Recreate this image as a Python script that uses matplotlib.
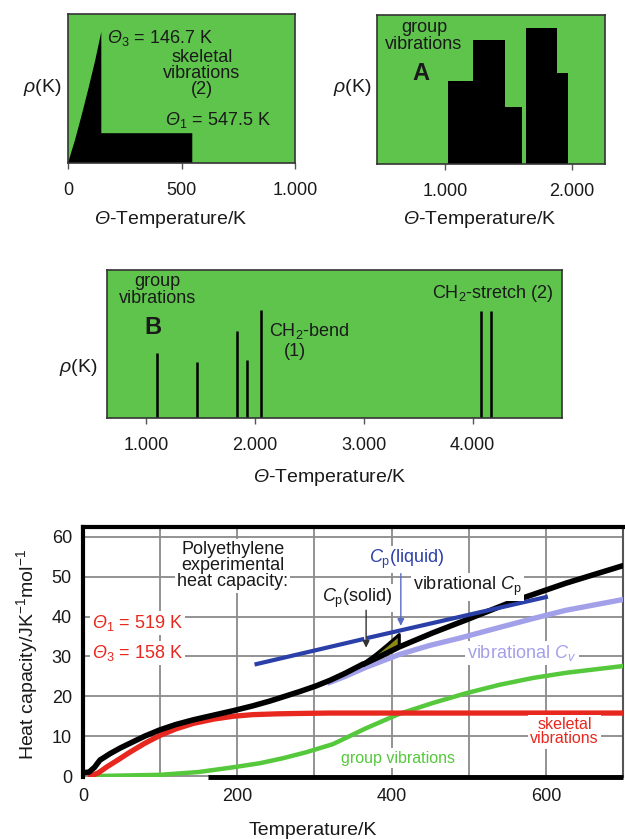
import matplotlib
matplotlib.use('Agg')
import matplotlib.pyplot as plt

plt.rcParams['font.family'] = ['Liberation Sans', 'DejaVu Sans']
plt.rcParams['mathtext.fontset'] = 'custom'
plt.rcParams['mathtext.rm'] = 'Liberation Sans'
plt.rcParams['mathtext.it'] = 'Liberation Sans:italic'
plt.rcParams['mathtext.bf'] = 'Liberation Sans:bold'
plt.rcParams['mathtext.sf'] = 'Liberation Sans:italic'

# ---------------- data ----------------
# Panel 1: skeletal vibrations density (Tarasov)
p1_theta = [0, 30, 60, 90, 120, 146.7, 146.7, 547.5, 547.5]
p1_rho = [0, 0.15, 0.32, 0.50, 0.69, 0.88, 0.20, 0.20, 0]
p1_ticks = [0, 500, 1000]
p1_ticklabels = ['0', '500', '1.000']

# Panel 2: group vibrations A (box distributions)
p2_left = [1024, 1220, 1472, 1638, 1882]
p2_right = [1220, 1472, 1606, 1882, 1969]
p2_height = [0.56, 0.83, 0.38, 0.91, 0.61]
p2_ticks = [1000, 2000]
p2_ticklabels = ['1.000', '2.000']

# Panel 3: group vibrations B (Einstein lines)
p3_theta = [1100, 1470, 1833, 1926, 2055, 4074, 4167]
p3_height = [0.44, 0.38, 0.59, 0.39, 0.73, 0.72, 0.72]
p3_ticks = [1000, 2000, 3000, 4000]
p3_ticklabels = ['1.000', '2.000', '3.000', '4.000']

# Panel 4: heat capacity of polyethylene
exp_T = [0, 8, 15, 22, 35, 48, 65, 80, 100, 120, 143, 170, 195, 220, 242,
         260, 281, 302, 320, 340, 363]
exp_C = [0.8, 1.0, 2.2, 4.0, 5.6, 7.0, 8.6, 10.0, 11.6, 12.9, 14.1, 15.3,
         16.4, 17.6, 18.8, 19.9, 21.2, 22.6, 24.0, 25.8, 28.1]
solid_T = [363, 380, 395, 410]
solid_C = [28.2, 30.6, 33.0, 35.5]
vibcp_T = [363, 385, 410, 453, 497, 557, 626, 700]
vibcp_C = [28.0, 30.0, 32.4, 35.9, 39.2, 43.8, 48.4, 52.8]
skel_T = [10, 20, 31, 45, 61, 80, 100, 120, 143, 170, 195, 220, 251, 280,
          320, 400, 500, 600, 700]
skel_C = [0, 0.8, 2.3, 4.0, 6.0, 8.2, 10.2, 11.8, 13.2, 14.3, 15.0, 15.4,
          15.6, 15.7, 15.8, 15.8, 15.8, 15.8, 15.8]
group_T = [18, 100, 150, 195, 229, 260, 290, 324, 367, 410, 453, 497, 540,
           583, 626, 700]
group_C = [0, 0.3, 1.0, 2.2, 3.2, 4.5, 6.0, 8.0, 12.0, 15.6, 18.3, 20.8,
           22.9, 24.6, 25.9, 27.6]
cv_T = [320, 340, 367, 410, 450, 488, 540, 583, 626, 700]
cv_C = [23.5, 25.0, 27.3, 30.5, 32.8, 34.6, 37.3, 39.5, 41.6, 44.3]
liq1_T = [225, 362]
liq1_C = [28.1, 34.3]
liq2_T = [370, 600]
liq2_C = [34.7, 44.9]
p4_xticks = [0, 200, 400, 600]
p4_yticks = [0, 10, 20, 30, 40, 50, 60]

# ---------------- layout ----------------
W, H = 625, 839
fig = plt.figure(figsize=(W / 100, H / 100), dpi=100)


def rect(l, t, r, b):
    return [l / W, 1 - b / H, (r - l) / W, (b - t) / H]


def fx(x):
    return x / W


def fy(y):
    return 1 - y / H


TH = r'$\mathsf{Θ}$'
GREEN_BG = '#5ec44c'
TXT = '#1a1a1a'
TICKFS = 13
LABFS = 14
ANNFS = 13


def style_top(ax):
    ax.set_facecolor(GREEN_BG)
    for s in ax.spines.values():
        s.set_color('#333333')
        s.set_linewidth(1.2)
    ax.set_yticks([])
    ax.tick_params(axis='x', direction='out', length=4, width=1,
                   color='#555555', labelsize=TICKFS, labelcolor=TXT, pad=10)
    ax.set_ylim(0, 1)


# Panel 1
ax1 = fig.add_axes(rect(68, 14, 295, 163))
style_top(ax1)
ax1.fill(p1_theta, p1_rho, color='black', lw=0)
ax1.set_xlim(0, 1000)
ax1.set_xticks(p1_ticks)
ax1.set_xticklabels(p1_ticklabels)
ax1.text(172, 0.84, r'$\mathsf{Θ}_3$ = 146.7 K', fontsize=ANNFS,
         color=TXT, va='center', ha='left')
ax1.text(590, 0.60, 'skeletal\nvibrations\n(2)', fontsize=ANNFS, color=TXT,
         ha='center', va='center', linespacing=0.95)
ax1.text(427, 0.29, r'$\mathsf{Θ}_1$ = 547.5 K', fontsize=ANNFS,
         color=TXT, va='center', ha='left')
fig.text(fx(42), fy(87), r'$\mathit{\rho}$(K)', fontsize=LABFS, color=TXT,
         ha='center', va='center')
fig.text(fx(171), fy(220), TH + '-Temperature/K', fontsize=LABFS,
         color=TXT, ha='center', va='center')

# Panel 2
ax2 = fig.add_axes(rect(377, 15, 605, 164))
style_top(ax2)
ax2.bar(p2_left, p2_height,
        width=[r - l for l, r in zip(p2_left, p2_right)],
        align='edge', color='black', lw=0)
ax2.set_xlim(465, 2260)
ax2.set_xticks(p2_ticks)
ax2.set_xticklabels(p2_ticklabels)
ax2.text(835, 0.86, 'group\nvibrations', fontsize=ANNFS, color=TXT,
         ha='center', va='center', linespacing=1.0)
ax2.text(811, 0.61, 'A', fontsize=17, fontweight='bold', color=TXT,
         ha='center', va='center')
fig.text(fx(352), fy(87), r'$\mathit{\rho}$(K)', fontsize=LABFS, color=TXT,
         ha='center', va='center')
fig.text(fx(480), fy(220), TH + '-Temperature/K', fontsize=LABFS,
         color=TXT, ha='center', va='center')

# Panel 3
ax3 = fig.add_axes(rect(107, 270, 562, 418))
style_top(ax3)
ax3.vlines(p3_theta, 0, p3_height, color='black', lw=1.8)
ax3.set_xlim(640, 4820)
ax3.set_xticks(p3_ticks)
ax3.set_xticklabels(p3_ticklabels)
ax3.text(1106, 0.865, 'group\nvibrations', fontsize=ANNFS, color=TXT,
         ha='center', va='center', linespacing=1.0)
ax3.text(1065, 0.61, 'B', fontsize=17, fontweight='bold', color=TXT,
         ha='center', va='center')
ax3.text(2130, 0.59, r'CH$_2$-bend', fontsize=ANNFS, color=TXT,
         ha='left', va='center')
ax3.text(2370, 0.45, '(1)', fontsize=ANNFS, color=TXT,
         ha='center', va='center')
ax3.text(4185, 0.84, r'CH$_2$-stretch (2)', fontsize=ANNFS, color=TXT,
         ha='center', va='center')
fig.text(fx(78), fy(367), r'$\mathit{\rho}$(K)', fontsize=LABFS, color=TXT,
         ha='center', va='center')
fig.text(fx(330), fy(477), TH + '-Temperature/K', fontsize=LABFS,
         color=TXT, ha='center', va='center')

# Panel 4
ax4 = fig.add_axes(rect(83, 527, 623, 777))
ax4.set_xlim(0, 700)
ax4.set_ylim(-0.25, 62.5)
ax4.set_xticks(p4_xticks)
ax4.set_yticks(p4_yticks)
ax4.set_xticks(range(0, 701, 100), minor=True)
ax4.grid(True, which='both', color='#8a8a8a', lw=1.3)
ax4.set_axisbelow(True)
ax4.tick_params(which='both', length=0, labelsize=TICKFS, labelcolor=TXT)
ax4.tick_params(axis='x', pad=8)
ax4.tick_params(axis='y', pad=8)
ax4.spines['left'].set_linewidth(3)
ax4.spines['top'].set_linewidth(3)
ax4.spines['right'].set_linewidth(1.5)
ax4.spines['right'].set_color('#555555')
ax4.spines['bottom'].set_visible(False)
ax4.plot([162, 700], [-0.25, -0.25], color='black', lw=3.5,
         solid_capstyle='butt', clip_on=False, zorder=5)

ax4.plot(group_T, group_C, color='#55c83c', lw=3.2, zorder=3)
ax4.plot(skel_T, skel_C, color='#e8281e', lw=3.8, zorder=3)
ax4.plot(cv_T, cv_C, color='#a3a0ea', lw=3.8, zorder=3)
ax4.fill_between(solid_T, solid_C, vibcp_C[:1] + [29.0, 30.4, 32.4],
                 color='#8c8a14', lw=0, zorder=4)
ax4.plot(solid_T + [410], solid_C + [32.4], color='black', lw=2.2, zorder=5)
ax4.plot(exp_T, exp_C, color='black', lw=4, zorder=5,
         solid_capstyle='round', solid_joinstyle='round')
ax4.plot(vibcp_T, vibcp_C, color='black', lw=4, zorder=5,
         solid_capstyle='round', solid_joinstyle='round')
ax4.plot(liq1_T, liq1_C, color='#2b3fa8', lw=3, zorder=6)
ax4.plot(liq2_T, liq2_C, color='#2b3fa8', lw=3, zorder=6)

wb = dict(facecolor='white', edgecolor='none', pad=1.5)
ax4.text(194, 52.8, 'Polyethylene\nexperimental\nheat capacity:',
         fontsize=13, color=TXT, ha='center', va='center',
         linespacing=0.95, bbox=wb, zorder=7)
ax4.text(12, 38.4, r'$\mathsf{Θ}_1$ = 519 K', fontsize=13,
         color='#e8281e', ha='left', va='center', bbox=wb, zorder=7)
ax4.text(12, 30.9, r'$\mathsf{Θ}_3$ = 158 K', fontsize=13,
         color='#e8281e', ha='left', va='center', bbox=wb, zorder=7)
ax4.text(355, 44.7, r'$\mathit{C}_\mathrm{p}$(solid)', fontsize=13,
         color=TXT, ha='center', va='center', bbox=wb, zorder=7)
ax4.annotate('', xy=(367, 31.5), xytext=(367, 42.3),
             arrowprops=dict(arrowstyle='-|>', color='#333333', lw=1,
                             mutation_scale=10), zorder=8)
ax4.text(419, 54.3, r'$\mathit{C}_\mathrm{p}$(liquid)', fontsize=13,
         color='#2b3fa8', ha='center', va='center', bbox=wb, zorder=7)
ax4.annotate('', xy=(412, 37.0), xytext=(412, 51.5),
             arrowprops=dict(arrowstyle='-|>', color='#5a6cc4', lw=1,
                             mutation_scale=10), zorder=8)
ax4.text(498, 47.5, r'vibrational $\mathit{C}_\mathrm{p}$', fontsize=13,
         color=TXT, ha='center', va='center', bbox=wb, zorder=7)
ax4.text(569, 30.9, r'vibrational $\mathit{C_v}$', fontsize=13,
         color='#a3a0ea', ha='center', va='center', bbox=wb, zorder=7)
ax4.text(624, 11.1, 'skeletal\nvibrations', fontsize=11.5,
         color='#e8281e', ha='center', va='center', linespacing=0.95,
         bbox=wb, zorder=7)
ax4.text(408, 4.5, 'group vibrations', fontsize=11.5, color='#55c83c',
         ha='center', va='center', bbox=wb, zorder=7)

fig.text(fx(27), fy(655), r'Heat capacity/JK$^{-1}$mol$^{-1}$',
         fontsize=LABFS, color=TXT, rotation=90, ha='center', va='center')
fig.text(fx(313), fy(822), 'Temperature/K', fontsize=LABFS, color=TXT,
         ha='center', va='top')

fig.savefig('out.png', dpi=100)
